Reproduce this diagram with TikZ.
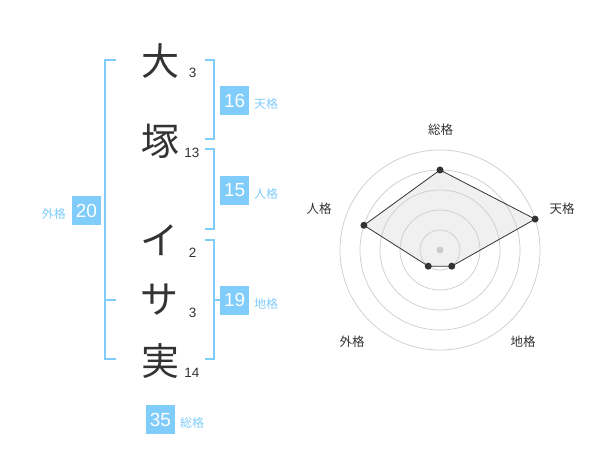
\documentclass[tikz,border=0pt]{standalone}
\usepackage{fontspec}
\usetikzlibrary{calc}
\setmainfont{Liberation Sans}
\newfontfamily\cjk{Noto Sans CJK JP}
\definecolor{bl}{RGB}{128,204,250}
\definecolor{dk}{RGB}{51,51,51}
\definecolor{gr}{RGB}{204,204,204}
\definecolor{fillg}{RGB}{240,240,240}
\tikzset{
  kan/.style={inner sep=0pt, text=dk, font=\cjk\fontsize{38}{38}\selectfont},
  stroke/.style={inner sep=0pt, text=dk, font=\fontsize{13.5}{14}\selectfont},
  vbox/.style={fill=bl, text=white, minimum width=29pt, minimum height=29pt, inner sep=0pt, font=\fontsize{19}{19}\selectfont},
  vlab/.style={inner sep=0pt, text=bl, font=\cjk\fontsize{12}{12}\selectfont},
  brk/.style={draw=bl, line width=1.6pt},
  ring/.style={draw=gr, line width=0.7pt},
  rlab/.style={inner sep=0pt, text=dk, font=\cjk\fontsize{12.5}{13}\selectfont},
  dot/.style={circle, fill=dk, inner sep=0pt, minimum size=7pt},
  polyfill/.style={fill=fillg},
  polyline/.style={draw=dk, line width=0.8pt},
}
\begin{document}
\begin{tikzpicture}[x=1pt,y=-1pt]
\useasboundingbox (0,0) rectangle (600,470);
% big characters
\node[kan] (k1) at (160,61.5) {大};
\node[kan] (k2) at (160,141.5) {塚};
\node[kan] (k3) at (159,240) {イ};
\node[kan] (k4) at (159,300) {サ};
\node[kan] (k5) at (160,361.5) {実};
% stroke counts
\node[stroke] (s1) at (192.7,72.7) {3};
\node[stroke] (s2) at (192,152.7) {13};
\node[stroke] (s3) at (192.7,252.7) {2};
\node[stroke] (s4) at (192.7,312.7) {3};
\node[stroke] (s5) at (192,372.7) {14};
% left bracket (gaikaku)
\draw[brk] (116,60) -- (105,60) -- (105,359) -- (116,359);
\draw[brk] (105,300) -- (116,300);
% right brackets
\draw[brk] (205,60) -- (214,60) -- (214,139) -- (205,139);
\draw[brk] (205,149) -- (214,149) -- (214,229) -- (205,229);
\draw[brk] (205,240) -- (214,240) -- (214,359) -- (205,359);
\draw[brk] (214,300) -- (220,300);
% value boxes
\node[vbox] (b1) at (234.7,100.5) {16};
\node[vlab,anchor=west] (l1) at (254,104) {天格};
\node[vbox] (b2) at (234.7,190.3) {15};
\node[vlab,anchor=west] (l2) at (254,194) {人格};
\node[vbox] (b3) at (234.7,300.3) {19};
\node[vlab,anchor=west] (l3) at (254,304) {地格};
\node[vbox] (b4) at (86.5,210.5) {20};
\node[vlab,anchor=east] (l4) at (66,213.5) {外格};
\node[vbox] (b5) at (160.5,419.5) {35};
\node[vlab,anchor=west] (l5) at (180,422.7) {総格};
% radar chart
\coordinate (c) at (440,250);
\coordinate (p1) at ($(c)+(-90:80)$);
\coordinate (p2) at ($(c)+(-18:100)$);
\coordinate (p3) at ($(c)+(54:20)$);
\coordinate (p4) at ($(c)+(126:20)$);
\coordinate (p5) at ($(c)+(-162:80)$);
\fill[polyfill] (p1) -- (p2) -- (p3) -- (p4) -- (p5) -- cycle;
\foreach \r in {20,40,60,80,100} \draw[ring] (c) circle (\r);
\fill[gr] (c) circle (3.5);
\draw[polyline] (p1) -- (p2) -- (p3) -- (p4) -- (p5) -- cycle;
\foreach \i in {1,...,5} \node[dot] (d\i) at (p\i) {};
\node[rlab] (r1) at (440.5,130) {総格};
\node[rlab] (r2) at (562,209) {天格};
\node[rlab] (r3) at (523,342) {地格};
\node[rlab] (r4) at (352,342) {外格};
\node[rlab] (r5) at (319,209) {人格};
\end{tikzpicture}
\end{document}
